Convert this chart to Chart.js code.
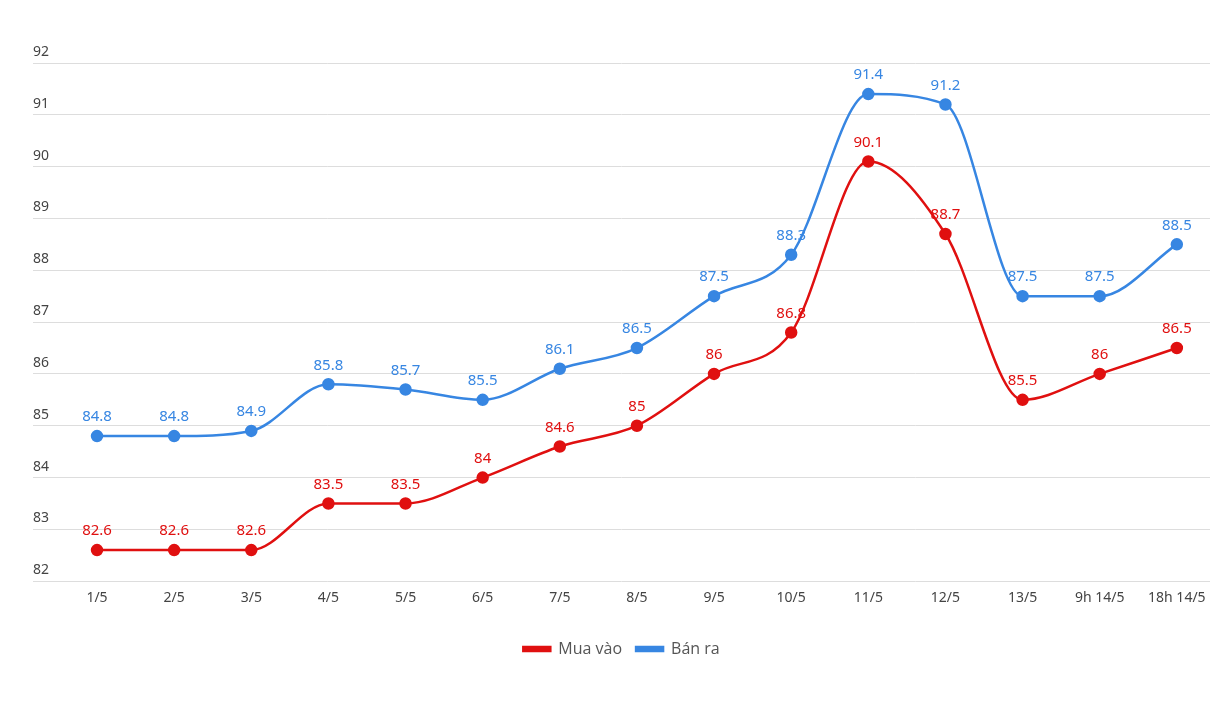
<!DOCTYPE html>
<html>
<head>
<meta charset="utf-8">
<script src="https://cdn.jsdelivr.net/npm/chart.js@4"></script>
<style>
  html, body { margin: 0; padding: 0; background: #fff; }
  #wrap { width: 1220px; height: 705px; }
</style>
</head>
<body>
<div id="wrap"><canvas id="myChart"></canvas></div>
<script>
'use strict';

// values
const days = ['1/5', '2/5', '3/5', '4/5', '5/5', '6/5', '7/5', '8/5', '9/5', '10/5', '11/5', '12/5', '13/5', '9h 14/5', '18h 14/5'];
const muaVao = [82.6, 82.6, 82.6, 83.5, 83.5, 84, 84.6, 85, 86, 86.8, 90.1, 88.7, 85.5, 86, 86.5];
const banRa = [84.8, 84.8, 84.9, 85.8, 85.7, 85.5, 86.1, 86.5, 87.5, 88.3, 91.4, 91.2, 87.5, 87.5, 88.5];
const yTicks = [82, 83, 84, 85, 86, 87, 88, 89, 90, 91, 92];

const RED = '#e01010';
const BLUE = '#3786e2';

function toPoints(values) {
  return values.map((v, i) => ({ x: i, y: v }));
}

// draws the value above every point
const valueLabels = {
  id: 'valueLabels',
  afterDatasetsDraw(chart) {
    const ctx = chart.ctx;
    ctx.save();
    ctx.font = '15px "Noto Sans"';
    ctx.textAlign = 'center';
    ctx.textBaseline = 'middle';
    chart.data.datasets.forEach((ds, di) => {
      const meta = chart.getDatasetMeta(di);
      ctx.fillStyle = ds.borderColor;
      meta.data.forEach((pt, i) => {
        ctx.fillText(String(ds.data[i].y), pt.x, pt.y - 19);
      });
    });
    ctx.restore();
  }
};

const ctx = document.getElementById('myChart').getContext('2d');

new Chart(ctx, {
  type: 'line',
  data: {
    datasets: [
      {
        label: 'Mua vào',
        data: toPoints(muaVao),
        borderColor: RED,
        backgroundColor: RED,
        pointBackgroundColor: RED,
        borderWidth: 2.5,
        pointRadius: 5,
        pointHoverRadius: 5,
        cubicInterpolationMode: 'monotone'
      },
      {
        label: 'Bán ra',
        data: toPoints(banRa),
        borderColor: BLUE,
        backgroundColor: BLUE,
        pointBackgroundColor: BLUE,
        borderWidth: 2.5,
        pointRadius: 5,
        pointHoverRadius: 5,
        cubicInterpolationMode: 'monotone'
      }
    ]
  },
  options: {
    responsive: true,
    maintainAspectRatio: false,
    animation: false,
    layout: {
      padding: { left: 33, right: 10, top: 63, bottom: 38 }
    },
    scales: {
      x: {
        type: 'linear',
        min: -0.83,
        max: 14.43,
        afterBuildTicks: (axis) => {
          axis.ticks = days.map((d, i) => ({ value: i }));
        },
        afterFit: (axis) => {
          axis.height += 13;
        },
        grid: { display: false, drawTicks: false },
        border: { display: false },
        ticks: {
          autoSkip: false,
          maxRotation: 0,
          padding: 8,
          color: '#444',
          font: { family: '"Noto Sans"', size: 14 },
          callback: (value) => days[value]
        }
      },
      y: {
        min: 82,
        max: 92,
        afterBuildTicks: (axis) => {
          axis.ticks = yTicks.map((v) => ({ value: v }));
        },
        grid: { color: '#dddddd', drawTicks: false },
        border: { display: false },
        ticks: {
          mirror: true,
          padding: 0,
          labelOffset: -11,
          color: '#444',
          font: { family: '"Noto Sans"', size: 14 }
        }
      }
    },
    plugins: {
      legend: {
        position: 'bottom',
        labels: {
          boxWidth: 27,
          boxHeight: 4,
          padding: 14,
          color: '#555',
          font: { family: '"Open Sans"', size: 16 }
        }
      },
      tooltip: { enabled: false }
    }
  },
  plugins: [valueLabels]
});
</script>
</body>
</html>
